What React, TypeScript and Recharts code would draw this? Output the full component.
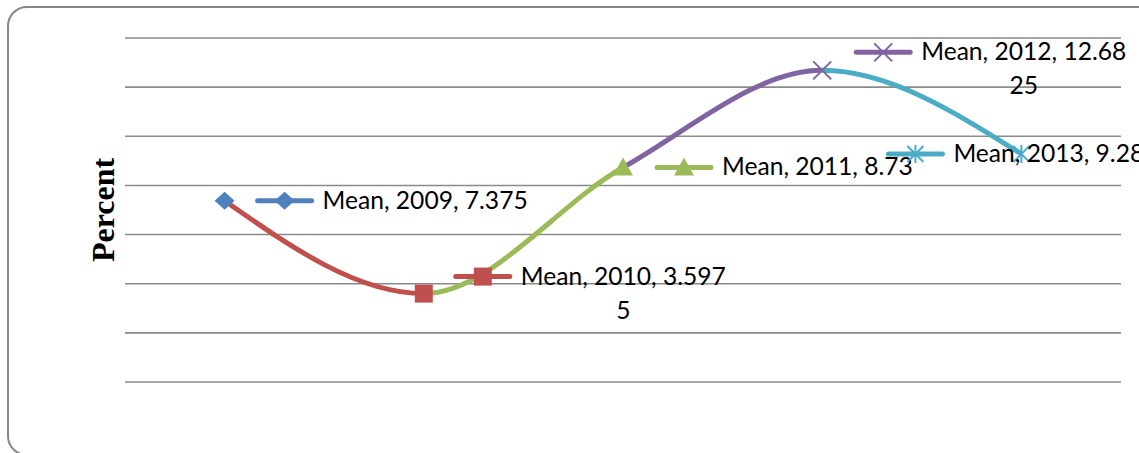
import React from 'react';
import { LineChart, Line, XAxis, YAxis, CartesianGrid, LabelList } from 'recharts';

const years = ['2009', '2010', '2011', '2012', '2013'];
const means = [7.375, 3.5975, 8.73, 12.6825, 9.28];
const seriesName = 'Mean';
const yTicks = [0, 2, 4, 6, 8, 10, 12, 14];

const pointColors = ['#4F81BD', '#C0504D', '#9BBB59', '#8064A2', '#4BACC6'];
const markerKinds = ['diamond', 'square', 'triangle', 'x', 'star'];
// where each data label (legend key + text) sits relative to its point
const labelOffsets = [
  { dx: 33, dy: 0 },
  { dx: 32, dy: -17 },
  { dx: 34, dy: 0 },
  { dx: 34, dy: -18 },
  { dx: -133, dy: 0 },
];

const W = 1139;
const H = 453;
const LABEL_FONT = 'Lato, "Open Sans", sans-serif';
const LABEL_SIZE = 24.6;
const WRAP_AT = 17;

const chartData = years.map((year, i) => ({ year, mean: means[i] }));

let measureCtx: CanvasRenderingContext2D | null = null;
function textWidth(s: string) {
  if (!measureCtx) measureCtx = document.createElement('canvas').getContext('2d');
  if (!measureCtx) return s.length * 12;
  measureCtx.font = `${LABEL_SIZE}px ${LABEL_FONT}`;
  return measureCtx.measureText(s).width;
}

function Marker({ kind, x, y, color }: { kind: string; x: number; y: number; color: string }) {
  switch (kind) {
    case 'diamond':
      return <polygon points={`${x},${y - 9} ${x + 10},${y} ${x},${y + 9} ${x - 10},${y}`} fill={color} />;
    case 'square':
      return <rect x={x - 9} y={y - 9} width={18} height={18} fill={color} />;
    case 'triangle':
      return <polygon points={`${x},${y - 10} ${x + 10},${y + 8} ${x - 10},${y + 8}`} fill={color} />;
    case 'x':
      return (
        <g stroke={color} strokeWidth={2}>
          <line x1={x - 9} y1={y - 9} x2={x + 9} y2={y + 9} />
          <line x1={x - 9} y1={y + 9} x2={x + 9} y2={y - 9} />
        </g>
      );
    default:
      return (
        <g stroke={color} strokeWidth={2}>
          <line x1={x - 8} y1={y - 8} x2={x + 8} y2={y + 8} />
          <line x1={x - 8} y1={y + 8} x2={x + 8} y2={y - 8} />
          <line x1={x} y1={y - 9} x2={x} y2={y + 9} />
        </g>
      );
  }
}

const renderDot = (props: any) => {
  const { cx, cy, index } = props;
  return <Marker key={`dot-${index}`} kind={markerKinds[index]} x={cx} y={cy} color={pointColors[index]} />;
};

const renderLabel = (props: any) => {
  const { x, y, index } = props;
  const off = labelOffsets[index];
  const color = pointColors[index];
  const kx = x + off.dx;
  const ky = y + off.dy;
  const full = `${seriesName}, ${years[index]}, ${means[index]}`;
  const lines: string[] = [];
  for (let i = 0; i < full.length; i += WRAP_AT) lines.push(full.slice(i, i + WRAP_AT));
  const tx = kx + 65;
  const w1 = textWidth(lines[0]);
  return (
    <g key={`lbl-${index}`}>
      <line x1={kx} y1={ky} x2={kx + 54} y2={ky} stroke={color} strokeWidth={5} strokeLinecap="round" />
      <Marker kind={markerKinds[index]} x={kx + 27} y={ky} color={color} />
      {lines.map((ln, j) => (
        <text
          key={j}
          x={j === 0 ? tx : tx + w1 / 2}
          y={ky + 8 + j * 34}
          textAnchor={j === 0 ? 'start' : 'middle'}
          fontFamily={LABEL_FONT}
          fontSize={LABEL_SIZE}
          fill="#000"
        >
          {ln}
        </text>
      ))}
    </g>
  );
};

export default function App() {
  return (
    <div style={{ position: 'relative', width: W, height: H, overflow: 'hidden', background: '#fff' }}>
      <style>{'body{margin:0}'}</style>
      <div
        style={{
          position: 'absolute',
          left: 7,
          top: 6,
          width: 1150,
          height: 446,
          border: '2px solid #878787',
          borderRadius: 20,
        }}
      />
      <div
        style={{
          position: 'absolute',
          left: 103,
          top: 210,
          transform: 'translate(-50%, -50%) rotate(-90deg)',
          fontFamily: '"Liberation Serif", "Times New Roman", serif',
          fontWeight: 'bold',
          fontSize: 32,
          whiteSpace: 'nowrap',
          lineHeight: 1,
        }}
      >
        Percent
      </div>
      <div style={{ position: 'absolute', left: 0, top: 0 }}>
        <LineChart width={W} height={H} data={chartData} margin={{ top: 38, right: 18, bottom: 71, left: 125 }}>
          <defs>
            <linearGradient id="segGrad" x1="0" y1="0" x2="1" y2="0">
              <stop offset="0" stopColor={pointColors[1]} />
              <stop offset="0.25" stopColor={pointColors[1]} />
              <stop offset="0.25" stopColor={pointColors[2]} />
              <stop offset="0.5" stopColor={pointColors[2]} />
              <stop offset="0.5" stopColor={pointColors[3]} />
              <stop offset="0.75" stopColor={pointColors[3]} />
              <stop offset="0.75" stopColor={pointColors[4]} />
              <stop offset="1" stopColor={pointColors[4]} />
            </linearGradient>
          </defs>
          <CartesianGrid vertical={false} stroke="#8a8a8a" strokeWidth={1.6} />
          <XAxis dataKey="year" scale="band" hide />
          <YAxis domain={[0, 14]} ticks={yTicks} hide />
          <Line
            type="monotone"
            dataKey="mean"
            stroke="url(#segGrad)"
            strokeWidth={5}
            dot={renderDot}
            activeDot={false}
            isAnimationActive={false}
          >
            <LabelList dataKey="mean" content={renderLabel} />
          </Line>
        </LineChart>
      </div>
    </div>
  );
}
